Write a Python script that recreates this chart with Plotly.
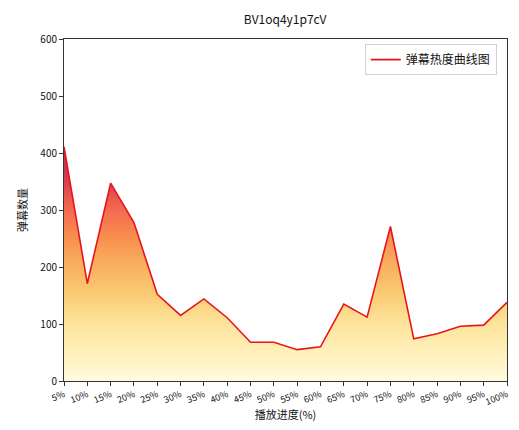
import plotly.graph_objects as go

categories = ["5%", "10%", "15%", "20%", "25%", "30%", "35%", "40%", "45%", "50%",
              "55%", "60%", "65%", "70%", "75%", "80%", "85%", "90%", "95%", "100%"]
counts = [411, 171, 347, 278, 152, 115, 144, 111, 68, 68,
          55, 60, 135, 112, 271, 74, 83, 96, 98, 138]
y_ticks = [0, 100, 200, 300, 400, 500, 600]

font = "Noto Sans CJK SC, DejaVu Sans, sans-serif"

fig = go.Figure()
fig.add_trace(go.Scatter(
    x=categories, y=counts, mode="lines", showlegend=False, hoverinfo="skip",
    line=dict(color="rgba(0,0,0,0)", width=0),
    fill="tozeroy",
    fillgradient=dict(
        type="vertical", start=0, stop=max(counts),
        colorscale=[[0, "#fffbe0"], [0.12, "#fff0bb"], [0.25, "#fde39a"],
                    [0.37, "#fbcb75"], [0.49, "#f9b060"], [0.61, "#f8904f"],
                    [0.73, "#f56a50"], [0.85, "#d84050"], [1, "#b03050"]],
    ),
))
fig.add_trace(go.Scatter(
    x=categories, y=counts, mode="lines", name="弹幕热度曲线图",
    line=dict(color="#e8141c", width=1.6),
))

fig.update_layout(
    width=503, height=414,
    margin=dict(l=56, r=4, t=31, b=41),
    paper_bgcolor="white", plot_bgcolor="white",
    font=dict(family=font, size=10, color="#111"),
    title=dict(text="BV1oq4y1p7cV", x=0.551, xanchor="center", y=0.971, yanchor="middle",
               font=dict(size=12, family=font, color="#111")),
    showlegend=True,
    legend=dict(x=0.977, y=0.985, xanchor="right", yanchor="top",
                bordercolor="#d0d0d0", borderwidth=1, bgcolor="white",
                font=dict(size=12, family=font, color="#111")),
    xaxis=dict(
        type="category", range=[0, len(categories) - 1], automargin=False,
        showline=True, linecolor="#333", linewidth=1, mirror=True,
        ticks="outside", ticklen=4, tickcolor="#333", tickangle=-22,
        showgrid=False, zeroline=False, tickfont=dict(size=9, color="#111"),
        title=dict(text="播放进度(%)", font=dict(size=11), standoff=11),
    ),
    yaxis=dict(
        range=[0, 600], tickvals=y_ticks, automargin=False,
        showline=True, linecolor="#333", linewidth=1, mirror=True,
        ticks="outside", ticklen=4, tickcolor="#333",
        showgrid=False, zeroline=False, tickfont=dict(size=10, color="#111"),
        title=dict(text="弹幕数量", font=dict(size=11), standoff=10),
    ),
)

fig.write_html("out.html")
